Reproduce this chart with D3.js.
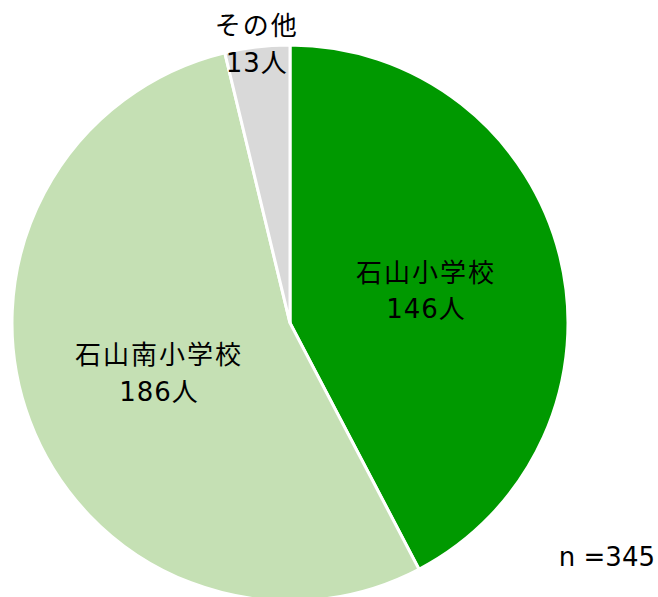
<!DOCTYPE html>
<html>
<head>
<meta charset="utf-8">
<script src="https://cdn.jsdelivr.net/npm/d3@7"></script>
<style>
  body { margin: 0; background: #fff; }
  text { font-family: "DejaVu Sans", "Noto Sans CJK JP", sans-serif; font-weight: 400; fill: #000; }
</style>
</head>
<body>
<div id="chart"></div>
<script>
// school names and counts
let schools = ["石山小学校", "石山南小学校", "その他"];
let counts = [146, 186, 13];
let colors = ["#009900", "#c5e0b4", "#d9d9d9"];
let total = 345;

let width = 658, height = 597;
let cx = 290, cy = 323, radius = 278;

let svg = d3.select("#chart").append("svg")
    .attr("width", width)
    .attr("height", height);

let g = svg.append("g")
    .attr("transform", `translate(${cx},${cy})`);

let pie = d3.pie().sort(null).value(d => d.count);
let data = schools.map((s, i) => ({name: s, count: counts[i], color: colors[i]}));
let arcs = pie(data);

let arc = d3.arc().innerRadius(0).outerRadius(radius);

g.selectAll("path.slice")
    .data(arcs)
    .enter()
    .append("path")
    .attr("class", "slice")
    .attr("d", arc)
    .style("fill", d => d.data.color)
    .style("stroke", "#fff")
    .style("stroke-width", 3);

// inside labels sit at r=140, the small one goes outside
let labelArcIn = d3.arc().innerRadius(140).outerRadius(140);
let labelArcOut = d3.arc().innerRadius(282).outerRadius(282);

let labels = g.selectAll("g.label")
    .data(arcs)
    .enter()
    .append("g")
    .attr("class", "label")
    .attr("transform", d => {
        let c = d.data.count < 20 ? labelArcOut.centroid(d) : labelArcIn.centroid(d);
        return `translate(${c[0]},${c[1]})`;
    });

labels.append("text")
    .attr("text-anchor", "middle")
    .attr("dy", "-0.3em")
    .style("font-size", "26px")
    .style("letter-spacing", "2px")
    .text(d => d.data.name);

labels.append("text")
    .attr("text-anchor", "middle")
    .attr("dy", "1.1em")
    .style("font-size", "26px")
    .style("letter-spacing", "1px")
    .text(d => d.data.count + "人");

svg.append("text")
    .attr("x", 655)
    .attr("y", 566)
    .attr("text-anchor", "end")
    .style("font-size", "26px")
    .text("n =" + total);
</script>
</body>
</html>
